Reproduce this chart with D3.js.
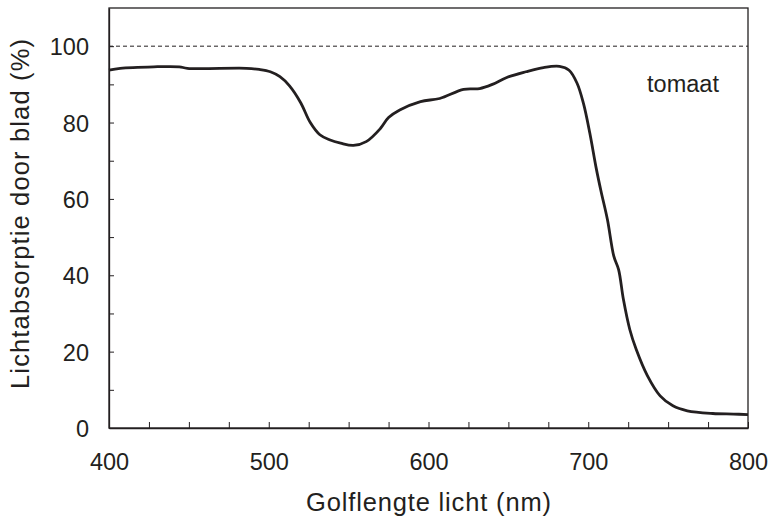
<!DOCTYPE html>
<html>
<head>
<meta charset="utf-8">
<script src="https://cdn.jsdelivr.net/npm/d3@7"></script>
<style>
  body { margin: 0; background: #fff; }
  text { font-family: "Liberation Sans", Arial, sans-serif; fill: #231f20; }
</style>
</head>
<body>
<div id="chart"></div>
<script>
// golflengte (nm) and lichtabsorptie (%)
const wavelength = [400, 407, 428, 444, 449, 486, 494, 501, 507, 513, 520, 526, 532, 538, 545, 553, 561,
  570, 575, 582, 595, 607, 622, 632, 640, 649, 661, 672, 682, 688, 693, 697, 701, 705, 708, 712, 716,
  719, 722, 726, 730, 737, 745, 753, 762, 778, 791, 800];
const absorption = [93.7, 94.2, 94.6, 94.6, 94.2, 94.2, 93.9, 93.3, 92.0, 89.6, 85.2, 80.0, 76.8, 75.5, 74.6, 74.0, 75.0,
  78.5, 81.3, 83.3, 85.5, 86.3, 88.7, 88.9, 90.0, 91.8, 93.3, 94.4, 94.7, 93.7, 90.3, 85.0, 77.2, 68.0, 62.0, 54.6, 45.0,
  41.5, 33.7, 25.8, 20.6, 13.7, 8.4, 5.8, 4.5, 3.8, 3.65, 3.5];

const xTicks = d3.range(400, 801, 25);
const xLabels = [400, 500, 600, 700, 800];
const yTicks = d3.range(0, 101, 10);
const yLabels = [0, 20, 40, 60, 80, 100];
const referenceLevel = 100;

const width = 771, height = 517;
const margin = { left: 109, right: 23, top: 8, bottom: 89 };

const svg = d3.select('#chart').append('svg')
  .attr('width', width)
  .attr('height', height);

const x = d3.scaleLinear().domain([400, 800]).range([margin.left, width - margin.right]);
const y = d3.scaleLinear().domain([0, 110]).range([height - margin.bottom, margin.top]);

// frame
svg.append('rect')
  .attr('x', x(400)).attr('y', y(110))
  .attr('width', x(800) - x(400)).attr('height', y(0) - y(110))
  .attr('fill', 'none').attr('stroke', '#231f20').attr('stroke-width', 1.3);

// x axis, ticks inside
const xAxis = svg.append('g')
  .attr('transform', `translate(0,${y(0)})`)
  .call(d3.axisBottom(x).tickValues(xTicks).tickSizeInner(-6).tickSizeOuter(0)
    .tickFormat(d => xLabels.includes(d) ? d : ''));
xAxis.select('.domain').attr('stroke', '#231f20').attr('stroke-width', 1.3);
xAxis.selectAll('.tick line').attr('stroke', '#231f20');
xAxis.selectAll('.tick text')
  .attr('y', 25).attr('dy', '0.72em')
  .style('font-size', '23.5px');

// y axis, ticks inside
const yAxis = svg.append('g')
  .attr('transform', `translate(${x(400)},0)`)
  .call(d3.axisLeft(y).tickValues(yTicks).tickSizeInner(-5).tickSizeOuter(0)
    .tickFormat(d => yLabels.includes(d) ? d : ''));
yAxis.select('.domain').attr('stroke', '#231f20').attr('stroke-width', 1.3);
yAxis.selectAll('.tick line').attr('stroke', '#231f20');
yAxis.selectAll('.tick text')
  .attr('x', -20).attr('dy', '0.36em')
  .style('font-size', '23.5px');

// dashed 100% line
svg.append('line')
  .attr('x1', x(400)).attr('x2', x(800))
  .attr('y1', y(referenceLevel)).attr('y2', y(referenceLevel))
  .attr('stroke', '#231f20').attr('stroke-width', 1)
  .attr('stroke-dasharray', '4,3');

// absorption curve
const line = d3.line()
  .x((d, i) => x(wavelength[i]))
  .y(d => y(d))
  .curve(d3.curveCatmullRom.alpha(0.5));

svg.append('path')
  .datum(absorption)
  .attr('d', line)
  .attr('fill', 'none')
  .attr('stroke', '#231f20')
  .attr('stroke-width', 2.8)
  .attr('stroke-linejoin', 'round');

// label
svg.append('text')
  .attr('x', 683).attr('y', 92)
  .attr('text-anchor', 'middle')
  .style('font-size', '23.5px')
  .text('tomaat');

// axis titles
svg.append('text')
  .attr('x', (x(400) + x(800)) / 2).attr('y', 511)
  .attr('text-anchor', 'middle')
  .attr('textLength', 245)
  .style('font-size', '25.5px')
  .text('Golflengte licht (nm)');

svg.append('text')
  .attr('transform', `translate(29,214) rotate(-90)`)
  .attr('text-anchor', 'middle')
  .attr('textLength', 350)
  .style('font-size', '25.5px')
  .text('Lichtabsorptie door blad (%)');
</script>
</body>
</html>
